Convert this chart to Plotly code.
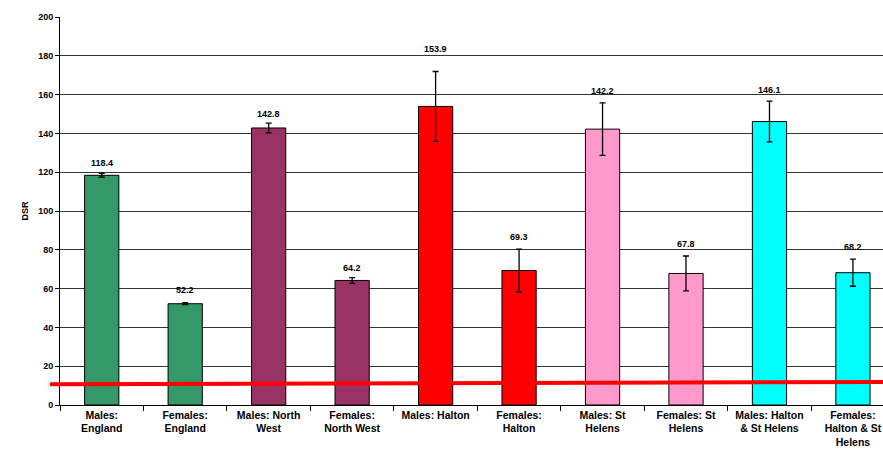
import plotly.graph_objects as go

categories = ["Males:<br>England", "Females:<br>England", "Males: North<br>West",
              "Females:<br>North West", "Males: Halton", "Females:<br>Halton",
              "Males: St<br>Helens", "Females: St<br>Helens", "Males: Halton<br>& St Helens",
              "Females:<br>Halton & St<br>Helens"]
values = [118.4, 52.2, 142.8, 64.2, 153.9, 69.3, 142.2, 67.8, 146.1, 68.2]
errors = [1.0, 0.5, 2.5, 1.5, 18.0, 11.0, 13.5, 9.0, 10.5, 7.0]
colors = ["#339966", "#339966", "#993366", "#993366", "#FF0000", "#FF0000",
          "#FF99CC", "#FF99CC", "#00FFFF", "#00FFFF"]
y_ticks = [0, 20, 40, 60, 80, 100, 120, 140, 160, 180, 200]
ref_line = [10.7, 11.9]

font = dict(family="Liberation Sans, Arial", size=9, color="black", weight="bold")
xfont = dict(family="Liberation Sans, Arial", size=10.5, color="black", weight="bold")

fig = go.Figure()
fig.add_trace(go.Bar(
    x=categories, y=values, width=0.41,
    marker=dict(color=colors, line=dict(color="black", width=1)),
    error_y=dict(type="data", array=errors, visible=True, color="black",
                 thickness=1.3, width=3),
))

label_shift = [9, 12, 8, 9, 22, 11, 11, 11, 10, 11]
for c, v, e, s in zip(categories, values, errors, label_shift):
    fig.add_annotation(x=c, y=v + e, text=f"{v:.1f}", showarrow=False,
                       yanchor="bottom", yshift=s - 6, font=font)

fig.add_shape(type="line", xref="paper", yref="y", x0=-0.012, x1=1.0,
              y0=ref_line[0], y1=ref_line[1], line=dict(color="#FF0000", width=4))

fig.update_layout(
    width=883, height=454,
    margin=dict(l=60, r=0, t=17, b=49),
    plot_bgcolor="white", paper_bgcolor="white",
    showlegend=False,
    font=font,
)
fig.update_xaxes(
    type="category", range=[-0.5, 9.36],
    showline=True, linecolor="black", linewidth=1,
    ticks="outside", tickson="boundaries", ticklen=5, tickcolor="black",
    tickfont=xfont, showgrid=False,
)
fig.update_yaxes(
    range=[0, 200], tickvals=y_ticks,
    showline=True, linecolor="black", linewidth=1,
    ticks="outside", ticklen=4, tickcolor="black",
    showgrid=True, gridcolor="#333333", gridwidth=1,
    zeroline=False, tickfont=font,
    title=dict(text="DSR", font=font, standoff=8),
)

fig.write_html("out.html")
